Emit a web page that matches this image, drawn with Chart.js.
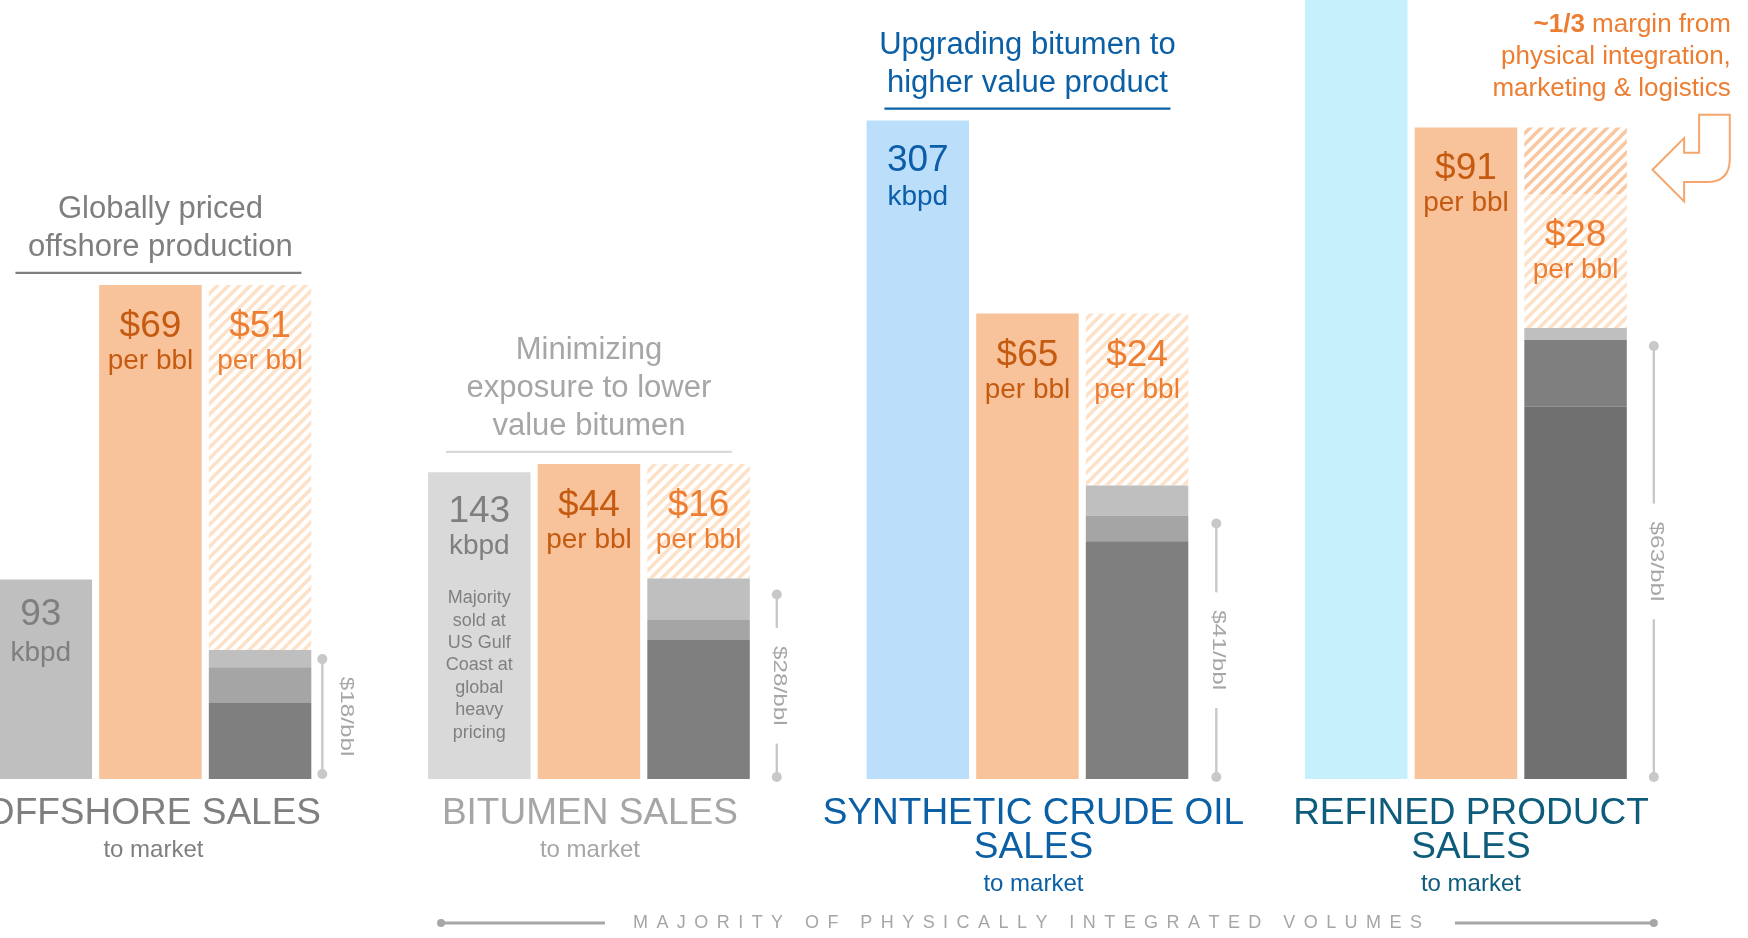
<!DOCTYPE html>
<html>
<head>
<meta charset="utf-8">
<script src="https://cdn.jsdelivr.net/npm/chart.js@4"></script>
<style>
  html, body { margin: 0; padding: 0; background: #fff; overflow: hidden; width: 1748px; height: 938px; }
  #wrap { position: absolute; left: -14px; top: 0; }
</style>
</head>
<body>
<div id="wrap"><canvas id="salesChart" width="1754" height="938"></canvas></div>
<script>
// Four sales channels, each with a volume bar, a price bar and a cost + margin bar
const groupLabels = [["OFFSHORE SALES"], ["BITUMEN SALES"], ["SYNTHETIC CRUDE OIL", "SALES"], ["REFINED PRODUCT", "SALES"]];
const groupTitles = [
    ["Globally priced", "offshore production"],
    ["Minimizing", "exposure to lower", "value bitumen"],
    ["Upgrading bitumen to", "higher value product"],
    null,
];
const slots = [
    "Offshore kbpd", "Offshore price", "Offshore cost & margin", "",
    "Bitumen kbpd", "Bitumen price", "Bitumen cost & margin", "",
    "SCO kbpd", "SCO price", "SCO cost & margin", "",
    "Refined kbpd", "Refined price", "Refined cost & margin", "",
];

const volumeKbpd = [93, 143, 307, 400]; // refined bar runs off the top, estimate
const salesPrice = [69, 44, 65, 91];     // $/bbl
const costBase = [10.6, 19.4, 33.2, 52.0];
const costMid = [5.0, 2.8, 3.6, 9.3];
const costTop = [2.4, 5.8, 4.2, 1.7];
const costTotal = [18, 28, 41, 63];
const marginMain = [51, 16, 24, 18.7];
const marginIntegration = [0, 0, 0, 9.3];
const marginTotal = [51, 16, 24, 28];
const bitumenNote = ["Majority", "sold at", "US Gulf", "Coast at", "global", "heavy", "pricing"];
const refinedNote = ["margin from", "physical integration,", "marketing & logistics"];
const footerText = "MAJORITY OF PHYSICALLY INTEGRATED VOLUMES";

// put one value per group into its slot (0 = volume, 1 = price, 2 = cost/margin)
const at = (values, pos) => slots.map((_, i) => (i % 4 === pos ? values[Math.floor(i / 4)] : null));
const byGroup = (colors) => (c) => colors[Math.floor(c.dataIndex / 4)];

function stripes(color) {
    const s = 11;
    const tile = document.createElement("canvas");
    tile.width = tile.height = s;
    const g = tile.getContext("2d");
    g.strokeStyle = color;
    g.lineWidth = 3.6;
    g.beginPath();
    g.moveTo(-2, s + 2); g.lineTo(s + 2, -2);
    g.moveTo(-2, 2); g.lineTo(2, -2);
    g.moveTo(s - 2, s + 2); g.lineTo(s + 2, s - 2);
    g.stroke();
    return g.createPattern(tile, "repeat");
}

const FONT = '"Liberation Sans", Arial, sans-serif';
const volColors = ["#bfbfbf", "#d9d9d9", "#bbdffb", "#c7f0fd"];
const volText = ["#7f7f7f", "#7f7f7f", "#0c5ea8"];
const volOffsets = [[45, 81], [50, 82], [50, 84]];
const titleColors = ["#7f7f7f", "#a6a6a6", "#0b5fa5"];
const ruleColors = ["#7f7f7f", "#d9d9d9", "#0b5fa5"];
const labelColors = ["#7f7f7f", "#a6a6a6", "#0b5fa5", "#0e5c7c"];
const labelShift = [3, 1, 6, 5];
const bracketGap = [11, 27, 28, 27];
const bracketInset = [9, 16, 38, 18];

const annotations = {
    id: "annotations",
    afterDatasetsDraw(chart) {
        const ctx = chart.ctx;
        const area = chart.chartArea;
        const bar = (ds, g, pos) => chart.getDatasetMeta(ds).data[g * 4 + pos];
        const text = (str, x, y, size, color, align = "center", weight = "") => {
            ctx.font = `${weight} ${size}px ${FONT}`;
            ctx.fillStyle = color;
            ctx.textAlign = align;
            ctx.textBaseline = "alphabetic";
            ctx.fillText(str, x, y);
        };
        const dot = (x, y, r, color) => {
            ctx.fillStyle = color;
            ctx.beginPath();
            ctx.arc(x, y, r, 0, Math.PI * 2);
            ctx.fill();
        };
        const line = (x1, y1, x2, y2, w, color) => {
            ctx.strokeStyle = color;
            ctx.lineWidth = w;
            ctx.beginPath();
            ctx.moveTo(x1, y1);
            ctx.lineTo(x2, y2);
            ctx.stroke();
        };

        ctx.save();
        for (let g = 0; g < 4; g++) {
            const vol = bar(0, g, 0);
            const price = bar(1, g, 1);
            const costBottom = bar(2, g, 2);
            const cost = bar(4, g, 2);
            const margin = bar(5, g, 2);
            const cx = price.x;

            // title above the group
            if (groupTitles[g]) {
                const shift = g === 0 ? 8 : 0;
                const ruleY = Math.min(vol.y, price.y) - 12;
                line(cx + shift - 143, ruleY, cx + shift + 143, ruleY, 2.2, ruleColors[g]);
                const lines = groupTitles[g];
                lines.forEach((t, i) => {
                    text(t, cx + shift + (g === 0 ? 2 : 0), ruleY - 17 - (lines.length - 1 - i) * 38, 31, titleColors[g]);
                });
            }

            // values inside bars
            if (g < 3) {
                text(String(volumeKbpd[g]), vol.x, vol.y + volOffsets[g][0], 37, volText[g]);
                text("kbpd", vol.x, vol.y + volOffsets[g][1], 28, volText[g]);
            }
            if (g === 1) {
                bitumenNote.forEach((t, i) => text(t, vol.x, vol.y + 131 + i * 22.4, 18, "#808080"));
            }
            text("$" + salesPrice[g], price.x, price.y + 52, 37, "#c55a11");
            text("per bbl", price.x, price.y + 84, 28, "#c55a11");
            text("$" + marginTotal[g], margin.x, margin.y + 52, 37, "#ed7d31");
            text("per bbl", margin.x, margin.y + 84, 28, "#ed7d31");

            // cost bracket
            const bx = margin.x + margin.width / 2 + bracketGap[g];
            const top = cost.y + bracketInset[g];
            const bottom = costBottom.base - (g === 0 ? 5 : 2);
            const mid = (top + bottom) / 2;
            const label = "$" + costTotal[g] + "/bbl";
            const stretch = 1.35;
            ctx.font = `18px ${FONT}`;
            const half = (ctx.measureText(label).width * stretch) / 2;
            const grey = "#c8c8c8";
            if (g === 0) {
                line(bx, top, bx, bottom, 2.4, grey);
            } else {
                line(bx, top, bx, mid - half - 18, 2.4, grey);
                line(bx, mid + half + 18, bx, bottom, 2.4, grey);
            }
            dot(bx, top, 5, grey);
            dot(bx, bottom, 5, grey);
            ctx.save();
            ctx.translate(g === 0 ? bx + 24 : bx + 2, mid);
            ctx.rotate(Math.PI / 2);
            ctx.scale(stretch, 1);
            ctx.font = `18px ${FONT}`;
            ctx.fillStyle = "#a6a6a6";
            ctx.textAlign = "center";
            ctx.textBaseline = "middle";
            ctx.fillText(label, 0, 0);
            ctx.restore();

            // category label under the group
            const lines = groupLabels[g];
            const lx = cx + labelShift[g];
            let y = area.bottom + 45;
            lines.forEach((t, i) => {
                text(t, lx, y, 37, labelColors[g]);
                if (i < lines.length - 1) y += 33.5;
            });
            text("to market", lx, y + 33, 24, labelColors[g]);
        }

        // refined product note with bent arrow
        const hatch = bar(6, 3, 2);
        const rx = hatch.x + hatch.width / 2;
        const ty = hatch.y + 3;
        const noteRight = rx + 104;
        const orange = "#ed7d31";
        ctx.font = `26px ${FONT}`;
        const restW = ctx.measureText(" " + refinedNote[0]).width;
        text(" " + refinedNote[0], noteRight, ty - 98, 26, orange, "right");
        text("~1/3", noteRight - restW, ty - 98, 26, orange, "right", "bold");
        text(refinedNote[1], noteRight, ty - 66, 26, orange, "right");
        text(refinedNote[2], noteRight, ty - 34, 26, orange, "right");

        ctx.strokeStyle = "#f4a66d";
        ctx.lineWidth = 2;
        ctx.beginPath();
        ctx.moveTo(rx + 25.7, ty + 39.3);
        ctx.lineTo(rx + 57.3, ty + 7.6);
        ctx.lineTo(rx + 57.3, ty + 22.3);
        ctx.lineTo(rx + 72.3, ty + 22.3);
        ctx.lineTo(rx + 72.3, ty - 15.7);
        ctx.lineTo(rx + 103, ty - 15.7);
        ctx.lineTo(rx + 103, ty + 28.3);
        ctx.quadraticCurveTo(rx + 103, ty + 51.6, rx + 80, ty + 51.6);
        ctx.lineTo(rx + 57.3, ty + 51.6);
        ctx.lineTo(rx + 57.3, ty + 71);
        ctx.closePath();
        ctx.stroke();

        // footer rule
        const fy = area.bottom + 144;
        const bit = bar(0, 1, 0);
        const leftEnd = bit.x - bit.width / 2 + 13;
        const rightEnd = rx + bracketGap[3];
        const fcx = bar(1, 2, 1).x;
        const target = 789;
        ctx.font = `18px "Liberation Sans Narrow", ${FONT}`;
        const chars = footerText.split("");
        const widths = chars.map((c) => ctx.measureText(c).width);
        const spacing = (target - widths.reduce((a, b) => a + b, 0)) / (chars.length - 1);
        let fx = fcx - target / 2;
        ctx.fillStyle = "#a6a6a6";
        ctx.textAlign = "left";
        ctx.textBaseline = "middle";
        chars.forEach((c, i) => {
            ctx.fillText(c, fx, fy);
            fx += widths[i] + spacing;
        });
        line(leftEnd, fy, fcx - target / 2 - 28, fy, 3, "#a6a6a6");
        line(fcx + target / 2 + 33, fy, rightEnd, fy, 3, "#a6a6a6");
        dot(leftEnd, fy, 4, "#a6a6a6");
        dot(rightEnd, fy, 4, "#a6a6a6");
        ctx.restore();
    },
};

const salesCanvas = document.getElementById("salesChart").getContext("2d");
const salesChart = new Chart(salesCanvas, {
    type: "bar",
    data: {
        labels: slots,
        datasets: [
            { label: "Volume (kbpd)", data: at(volumeKbpd, 0), yAxisID: "yVol", backgroundColor: byGroup(volColors) },
            { label: "Realized price", data: at(salesPrice, 1), yAxisID: "y", backgroundColor: "#f8c39b" },
            { label: "Cost", data: at(costBase, 2), yAxisID: "y", backgroundColor: byGroup(["#7f7f7f", "#7f7f7f", "#7f7f7f", "#707070"]) },
            { label: "Cost 2", data: at(costMid, 2), yAxisID: "y", backgroundColor: byGroup(["#a5a5a5", "#a5a5a5", "#a5a5a5", "#7f7f7f"]) },
            { label: "Cost 3", data: at(costTop, 2), yAxisID: "y", backgroundColor: "#bfbfbf" },
            { label: "Margin", data: at(marginMain, 2), yAxisID: "y", backgroundColor: stripes("#fde1c9") },
            { label: "Integration margin", data: at(marginIntegration, 2), yAxisID: "y", backgroundColor: stripes("#f9c8a2") },
        ],
    },
    options: {
        responsive: false,
        animation: false,
        barPercentage: 0.935,
        categoryPercentage: 1,
        layout: { padding: { left: 0, right: 0, top: 0, bottom: 159 } },
        plugins: {
            legend: { display: false },
            tooltip: { enabled: false },
        },
        scales: {
            x: { stacked: true, display: false },
            y: { stacked: true, display: false, min: 0, max: 108.8 },
            yVol: { stacked: true, display: false, min: 0, max: 363.2 },
        },
    },
    plugins: [annotations],
});
</script>
</body>
</html>
